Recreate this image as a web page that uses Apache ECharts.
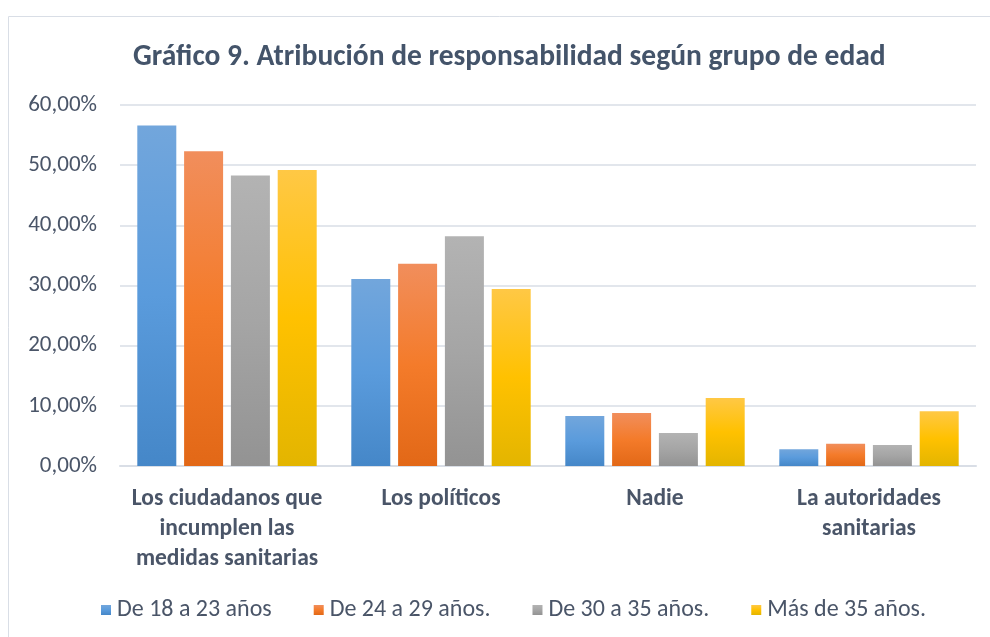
<!DOCTYPE html>
<html>
<head>
<meta charset="utf-8">
<script src="https://cdn.jsdelivr.net/npm/echarts@6/dist/echarts.min.js"></script>
<style>
  html, body { margin: 0; padding: 0; background: #fff; }
  #chart { width: 990px; height: 637px; }
</style>
</head>
<body>
<div id="chart"></div>
<script>
// datos (porcentajes)
var categories = [
  'Los ciudadanos que\nincumplen las\nmedidas sanitarias',
  'Los políticos',
  'Nadie',
  'La autoridades\nsanitarias'
];
var seriesNames = ['De 18 a 23 años', 'De 24 a 29 años.', 'De 30 a 35 años.', 'Más de 35 años.'];
var edad18a23 = [56.6, 31.1, 8.3, 2.8];
var edad24a29 = [52.3, 33.6, 8.8, 3.7];
var edad30a35 = [48.3, 38.2, 5.5, 3.5];
var mas35 = [49.2, 29.4, 11.3, 9.1];
var yTicks = { min: 0, max: 60, interval: 10 };

var FONT = 'Carlito, Lato, sans-serif';
var TXT = '#4a5568';

// degradado tipo Excel: claro arriba, más oscuro abajo
function grad(top, mid, bottom) {
  return new echarts.graphic.LinearGradient(0, 0, 0, 1, [
    { offset: 0, color: top },
    { offset: 0.5, color: mid },
    { offset: 1, color: bottom }
  ]);
}
var fills = [
  grad('#72a6dc', '#5a9bdc', '#4587c8'),
  grad('#f18e5c', '#f47b2a', '#e26817'),
  grad('#b3b3b3', '#a5a5a5', '#939393'),
  grad('#ffc845', '#ffc100', '#e3b500')
];
var allData = [edad18a23, edad24a29, edad30a35, mas35];

var chartDom = document.getElementById('chart');
var myChart = echarts.init(chartDom);

var series = [];
for (var i = 0; i < allData.length; i++) {
  series.push({
    name: seriesNames[i],
    type: 'bar',
    data: allData[i],
    barWidth: 39,
    barGap: '20%',
    itemStyle: { color: fills[i] }
  });
}

myChart.setOption({
  animation: false,
  textStyle: { fontFamily: FONT },
  graphic: [{
    type: 'rect',
    shape: { x: 8.5, y: 16.5, width: 1000, height: 700 },
    style: { fill: 'none', stroke: '#d9dee6', lineWidth: 1 },
    silent: true
  }],
  title: {
    text: 'Gráfico 9. Atribución de responsabilidad según grupo de edad',
    left: 128,
    top: 38,
    textStyle: { fontFamily: FONT, fontSize: 29.5, fontWeight: 'bold', color: '#44546a' }
  },
  legend: {
    bottom: 10,
    left: 96,
    itemWidth: 10,
    itemHeight: 10,
    itemGap: 42,
    icon: 'rect',
    textStyle: { fontFamily: FONT, fontSize: 24, color: TXT, padding: [0, 0, 0, 1] },
    data: seriesNames
  },
  grid: { left: 120, right: 14, top: 105, bottom: 171 },
  xAxis: {
    type: 'category',
    data: categories,
    axisTick: { show: false },
    axisLine: { lineStyle: { color: '#d9dee6', width: 2 } },
    axisLabel: {
      margin: 18,
      fontFamily: FONT,
      fontSize: 23.5,
      fontWeight: 'bold',
      lineHeight: 30,
      color: TXT,
      interval: 0
    }
  },
  yAxis: {
    type: 'value',
    min: yTicks.min,
    max: yTicks.max,
    interval: yTicks.interval,
    axisLine: { show: false },
    axisTick: { show: false },
    splitLine: { lineStyle: { color: '#e2e6ec', width: 2 } },
    axisLabel: {
      margin: 23,
      fontFamily: FONT,
      fontSize: 23,
      color: TXT,
      formatter: function (v) { return v.toFixed(2).replace('.', ',') + '%'; }
    }
  },
  series: series
});
</script>
</body>
</html>
